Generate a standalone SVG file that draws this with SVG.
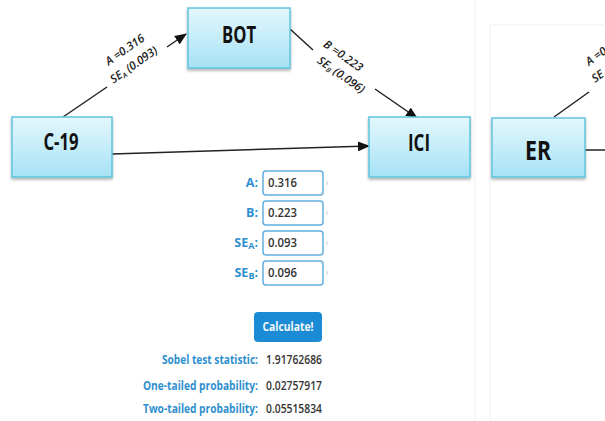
<svg xmlns="http://www.w3.org/2000/svg" width="605" height="421" viewBox="0 0 605 421">
  <defs>
    <linearGradient id="boxFill" x1="0" y1="0" x2="0" y2="1">
      <stop offset="0" stop-color="#e4f7fd"/>
      <stop offset="1" stop-color="#a6e2f5"/>
    </linearGradient>
    <filter id="shadow" x="-10%" y="-10%" width="120%" height="130%">
      <feDropShadow dx="0" dy="2" stdDeviation="1.5" flood-color="#000" flood-opacity="0.3"/>
    </filter>
    <marker id="arrow" markerUnits="userSpaceOnUse" markerWidth="12" markerHeight="10" refX="11" refY="5" orient="auto">
      <path d="M0,0 L12,5 L0,10 z" fill="#111"/>
    </marker>
  </defs>
  <style>
    .box { fill: url(#boxFill); stroke: #5fc3de; stroke-width: 1.5; filter: url(#shadow); }
    .node-label { font-family: "Open Sans", "Liberation Sans", sans-serif; font-weight: 700; fill: #111; text-anchor: middle; }
    .edge { stroke: #222; stroke-width: 1.5; fill: none; }
    .coef { font-family: "Open Sans", "Liberation Sans", sans-serif; font-size: 11.5px; font-style: italic; font-weight: 600; fill: #222; text-anchor: middle; }
    .sub { font-size: 7px; }
    .panel { stroke: #f0f0f0; stroke-width: 1; fill: none; }
    .flabel { font-family: "Open Sans", "Liberation Sans", sans-serif; font-size: 12.5px; font-weight: 700; fill: #2e8fcf; text-anchor: end; }
    .fval { font-family: "Open Sans", "Liberation Sans", sans-serif; font-size: 12.5px; font-weight: 600; fill: #333; }
    .field { fill: #fff; stroke: #62aee0; stroke-width: 1.5; }
    .tick { stroke: #d0d0d0; stroke-width: 1; }
  </style>

  <rect width="605" height="421" fill="#fff"/>

  <!-- faint panel borders -->
  <line class="panel" x1="475" y1="0" x2="475" y2="421"/>
  <path class="panel" d="M490,421 V25 H605"/>

  <!-- connectors -->
  <g id="connectors">
    <line class="edge" x1="63" y1="117" x2="107" y2="87"/>
    <line class="edge" x1="167" y1="47" x2="186" y2="34" marker-end="url(#arrow)"/>
    <line class="edge" x1="290" y1="29" x2="313" y2="50"/>
    <line class="edge" x1="375" y1="89" x2="417" y2="118" marker-end="url(#arrow)"/>
    <line class="edge" x1="112" y1="154" x2="369" y2="146" marker-end="url(#arrow)"/>
    <line class="edge" x1="554" y1="117" x2="589" y2="92"/>
    <line class="edge" x1="585" y1="150" x2="605" y2="150"/>

    <text class="coef" transform="translate(127,53) rotate(-35)">A =0.316</text>
    <text class="coef" transform="translate(136,68) rotate(-35)">SE<tspan class="sub" dy="2">A</tspan><tspan dy="-2"> (0.093)</tspan></text>
    <text class="coef" transform="translate(341,59) rotate(35)">B =0.223</text>
    <text class="coef" transform="translate(339,78) rotate(35)">SE<tspan class="sub" dy="2">B</tspan><tspan dy="-2"> (0.096)</tspan></text>
    <text class="coef" style="text-anchor:start" transform="translate(589,66) rotate(-35)">A =0</text>
    <text class="coef" style="text-anchor:start" transform="translate(595,83) rotate(-35)">SE<tspan class="sub" dy="2">A</tspan></text>
  </g>

  <g id="node-bot">
    <rect class="box" x="188" y="8" width="102" height="60"/>
    <text class="node-label" x="239" y="43" font-size="24" textLength="34" lengthAdjust="spacingAndGlyphs">BOT</text>
  </g>
  <g id="node-c19">
    <rect class="box" x="12" y="117" width="100" height="60"/>
    <text class="node-label" x="61" y="150" font-size="23" textLength="35" lengthAdjust="spacingAndGlyphs">C-19</text>
  </g>
  <g id="node-ici">
    <rect class="box" x="369" y="117" width="101" height="60"/>
    <text class="node-label" x="419" y="151" font-size="24" textLength="22" lengthAdjust="spacingAndGlyphs">ICI</text>
  </g>
  <g id="node-er">
    <rect class="box" x="492" y="118" width="93" height="59"/>
    <text class="node-label" x="538" y="160" font-size="27" textLength="26" lengthAdjust="spacingAndGlyphs">ER</text>
  </g>

  <!-- Sobel test calculator -->
  <g id="sobel-form">
    <text class="flabel" x="258" y="187">A:</text>
    <rect class="field" x="263" y="171" width="60" height="24" rx="3"/>
    <text class="fval" x="268" y="187" textLength="29" lengthAdjust="spacingAndGlyphs">0.316</text>
    <line class="tick" x1="327" y1="181" x2="327" y2="185"/>

    <text class="flabel" x="258" y="217">B:</text>
    <rect class="field" x="263" y="201" width="60" height="24" rx="3"/>
    <text class="fval" x="268" y="217" textLength="29" lengthAdjust="spacingAndGlyphs">0.223</text>
    <line class="tick" x1="327" y1="211" x2="327" y2="215"/>

    <text class="flabel" x="258" y="247">SE<tspan font-size="9" dy="2">A</tspan><tspan dy="-2">:</tspan></text>
    <rect class="field" x="263" y="231" width="60" height="24" rx="3"/>
    <text class="fval" x="268" y="247" textLength="29" lengthAdjust="spacingAndGlyphs">0.093</text>
    <line class="tick" x1="327" y1="241" x2="327" y2="245"/>

    <text class="flabel" x="258" y="277">SE<tspan font-size="9" dy="2">B</tspan><tspan dy="-2">:</tspan></text>
    <rect class="field" x="263" y="261" width="60" height="24" rx="3"/>
    <text class="fval" x="268" y="277" textLength="29" lengthAdjust="spacingAndGlyphs">0.096</text>
    <line class="tick" x1="327" y1="271" x2="327" y2="275"/>

    <rect x="254" y="312" width="68" height="30" rx="4" fill="#1a8bd4"/>
    <text x="288" y="331" font-family="Open Sans, Liberation Sans, sans-serif" font-size="13" font-weight="700" fill="#f4f8fb" text-anchor="middle" textLength="51" lengthAdjust="spacingAndGlyphs">Calculate!</text>

    <text class="flabel" x="258" y="364" textLength="96" lengthAdjust="spacingAndGlyphs">Sobel test statistic:</text>
    <text class="fval" x="266" y="364" textLength="56" lengthAdjust="spacingAndGlyphs">1.91762686</text>
    <text class="flabel" x="258" y="390" textLength="115" lengthAdjust="spacingAndGlyphs">One-tailed probability:</text>
    <text class="fval" x="266" y="390" textLength="56" lengthAdjust="spacingAndGlyphs">0.02757917</text>
    <text class="flabel" x="258" y="413" textLength="115" lengthAdjust="spacingAndGlyphs">Two-tailed probability:</text>
    <text class="fval" x="266" y="413" textLength="56" lengthAdjust="spacingAndGlyphs">0.05515834</text>
  </g>
</svg>
